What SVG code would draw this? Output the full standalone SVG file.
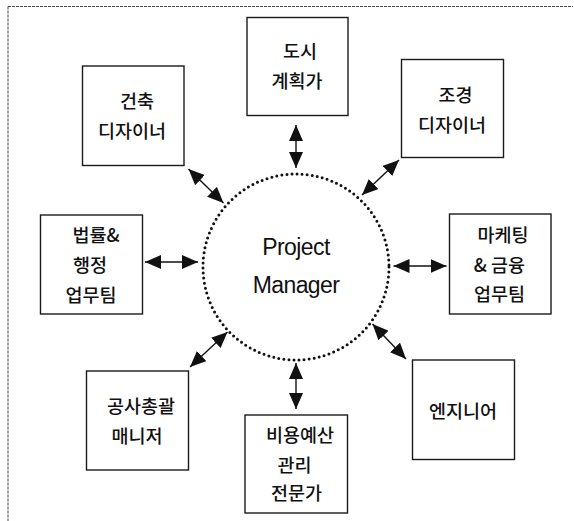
<svg xmlns="http://www.w3.org/2000/svg" width="574" height="521" viewBox="0 0 574 521">
<style>
  .box { fill: #fff; stroke: #1a1a1a; stroke-width: 1.4; }
  .kt { font-family: "Noto Sans CJK KR", "Noto Sans", sans-serif; font-size: 18.5px; font-weight: 500; fill: #111; text-anchor: middle; }
  .et { font-family: "Liberation Sans", Arial, sans-serif; font-size: 23px; fill: #111; text-anchor: middle; letter-spacing: -0.6px; }
  .conn { stroke: #111; stroke-width: 1.4; fill: none; marker-start: url(#ah); marker-end: url(#ah); }
  .frame { stroke: #444; stroke-width: 1; stroke-dasharray: 3 1; fill: none; }
</style>
<defs>
  <marker id="ah" markerUnits="userSpaceOnUse" markerWidth="16" markerHeight="14" refX="16" refY="7" orient="auto-start-reverse" viewBox="0 0 16 14">
    <path d="M0,0 L16,7 L0,14 z" fill="#111"/>
  </marker>
</defs>
<rect width="574" height="521" fill="#fff"/>
<g id="frame">
  <line class="frame" x1="8" y1="6.5" x2="573" y2="6.5"/>
  <line class="frame" x1="8" y1="6.5" x2="8" y2="521"/>
</g>
<g id="connectors">
  <line class="conn" x1="296" y1="125" x2="296" y2="168"/>
  <line class="conn" x1="188.5" y1="169" x2="223.5" y2="203"/>
  <line class="conn" x1="399" y1="160" x2="362" y2="195"/>
  <line class="conn" x1="145" y1="262" x2="198" y2="262"/>
  <line class="conn" x1="393.5" y1="266" x2="446.5" y2="266"/>
  <line class="conn" x1="190" y1="367" x2="227.5" y2="332"/>
  <line class="conn" x1="296" y1="363" x2="296" y2="409"/>
  <line class="conn" x1="372.5" y1="324" x2="406" y2="359"/>
</g>
<g id="pm">
  <circle cx="296" cy="267" r="93" fill="none" stroke="#111" stroke-width="3" stroke-linecap="round" stroke-dasharray="0 5.1"/>
  <text class="et" x="296" y="255">Project</text>
  <text class="et" x="296" y="293">Manager</text>
</g>
<g id="urban">
  <rect class="box" x="247" y="17.5" width="101" height="98"/>
  <text class="kt" x="300" y="58">도시</text>
  <text class="kt" x="297" y="88">계획가</text>
</g>
<g id="arch">
  <rect class="box" x="82.5" y="66" width="101.5" height="99.5"/>
  <text class="kt" x="137" y="108">건축</text>
  <text class="kt" x="132" y="138">디자이너</text>
</g>
<g id="landscape">
  <rect class="box" x="401.5" y="59.5" width="102" height="98"/>
  <text class="kt" x="455.5" y="102">조경</text>
  <text class="kt" x="452" y="132">디자이너</text>
</g>
<g id="legal">
  <rect class="box" x="40.5" y="215" width="102" height="99"/>
  <text class="kt" x="96" y="242">법률&amp;</text>
  <text class="kt" x="90" y="272">행정</text>
  <text class="kt" x="91" y="302">업무팀</text>
</g>
<g id="marketing">
  <rect class="box" x="449.5" y="214" width="101.5" height="100"/>
  <text class="kt" x="503" y="242">마케팅</text>
  <text class="kt" x="499.5" y="272">&amp; 금융</text>
  <text class="kt" x="499.5" y="301">업무팀</text>
</g>
<g id="construction">
  <rect class="box" x="86.5" y="371" width="102" height="99"/>
  <text class="kt" x="141" y="413">공사총괄</text>
  <text class="kt" x="137" y="443">매니저</text>
</g>
<g id="cost">
  <rect class="box" x="245" y="415" width="102.5" height="98"/>
  <text class="kt" x="300" y="442">비용예산</text>
  <text class="kt" x="294.5" y="472">관리</text>
  <text class="kt" x="296.5" y="500">전문가</text>
</g>
<g id="engineer">
  <rect class="box" x="412.5" y="360" width="102" height="99.5"/>
  <text class="kt" x="463" y="418">엔지니어</text>
</g>
</svg>
